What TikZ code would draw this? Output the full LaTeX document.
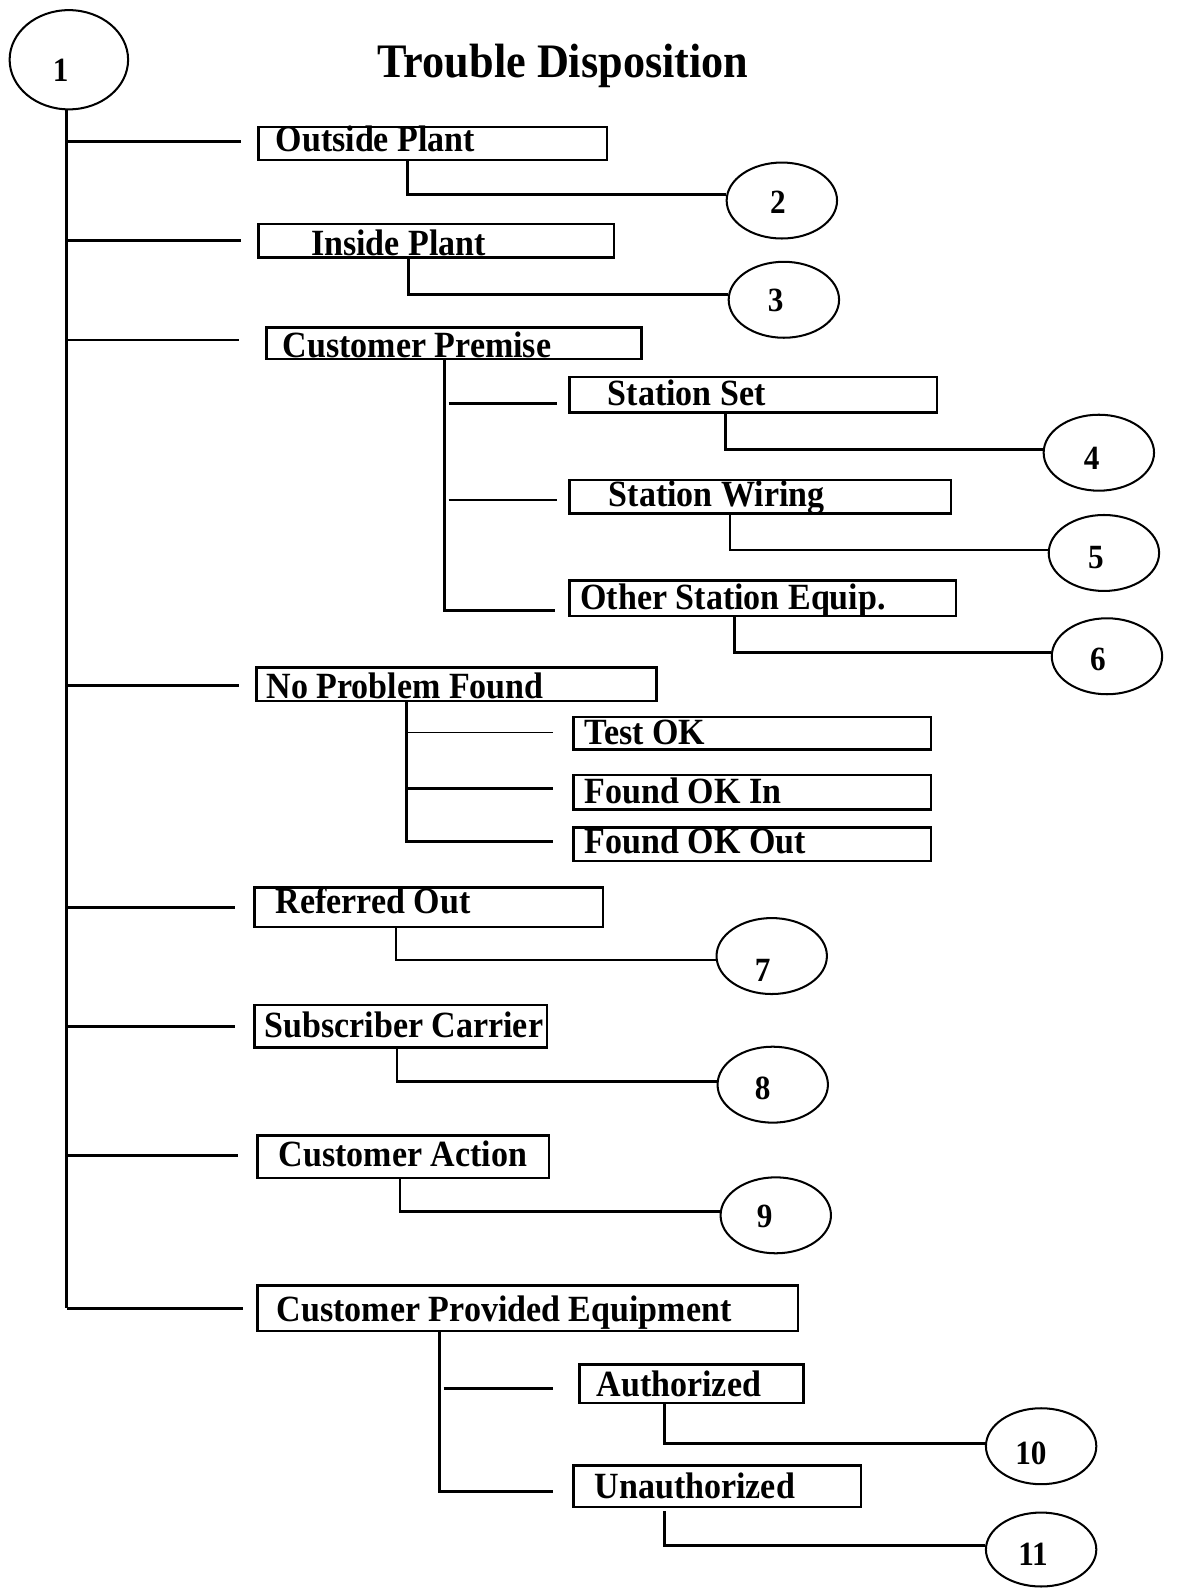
\documentclass[tikz,border=0pt]{standalone}
\usepackage{fontspec}
\setmainfont{Liberation Serif}[FakeStretch=0.92]
\usetikzlibrary{shapes.geometric,calc}
\begin{document}
\begin{tikzpicture}[x=1pt,y=-1pt,
  box/.style={draw, line width=2.4pt, rectangle, inner sep=0pt, anchor=north west},
  lbl/.style={anchor=base west, inner sep=0pt, font=\fontsize{36.5}{39}\selectfont\bfseries},
  oval/.style={draw, line width=2pt, ellipse, inner sep=0pt, minimum width=109pt, minimum height=75pt},
  num/.style={inner sep=0pt, font=\fontsize{33.5}{36}\selectfont\bfseries},
  ln/.style={line width=2.8pt},
  thinln/.style={line width=1.8pt}]
\useasboundingbox (0,0) rectangle (1164,1568);

% title
\node[inner sep=0pt, anchor=base, font=\fontsize{47.5}{50}\selectfont\bfseries] (title) at (556,77) {Trouble Disposition};

% ovals
\node[oval, minimum width=117pt, minimum height=98pt] (c1) at (68,59) {};
\node[oval] (c2) at (772,198) {};
\node[oval] (c3) at (774,296) {};
\node[oval] (c4) at (1085,447) {};
\node[oval] (c5) at (1090,546) {};
\node[oval] (c6) at (1093,648) {};
\node[oval] (c7) at (762,944) {};
\node[oval] (c8) at (763,1071) {};
\node[oval] (c9) at (766,1200) {};
\node[oval] (c10) at (1028,1428) {};
\node[oval, minimum height=73pt] (c11) at (1028,1530) {};

\node[num] (n1) at ($(c1)+(-8,10)$) {1};
\node[num] (n2) at ($(c2)+(-4,2)$) {2};
\node[num] (n3) at ($(c3)+(-8,1)$) {3};
\node[num] (n4) at ($(c4)+(-7,6)$) {4};
\node[num] (n5) at ($(c5)+(-8,5)$) {5};
\node[num] (n6) at ($(c6)+(-9,3)$) {6};
\node[num] (n7) at ($(c7)+(-9,14)$) {7};
\node[num] (n8) at ($(c8)+(-10,4)$) {8};
\node[num] (n9) at ($(c9)+(-11,1)$) {9};
\node[num] (n10) at ($(c10)+(-10,7)$) {10};
\node[num] (n11) at ($(c11)+(-8,5)$) {11};

% boxes
\node[box, minimum width=344pt, minimum height=33pt] (op) at (254,124) {};
\node[box, minimum width=351pt, minimum height=33pt] (ip) at (254,220) {};
\node[box, minimum width=370pt, minimum height=31pt] (cp) at (262,322) {};
\node[box, minimum width=363pt, minimum height=35pt] (ss) at (561,371) {};
\node[box, minimum width=377pt, minimum height=33pt] (sw) at (561,473) {};
\node[box, minimum width=382pt, minimum height=35pt] (oe) at (561,572) {};
\node[box, minimum width=395pt, minimum height=33pt] (npf) at (252,658) {};
\node[box, minimum width=353pt, minimum height=32pt] (tok) at (565,707) {};
\node[box, minimum width=353pt, minimum height=34pt] (fin) at (565,764) {};
\node[box, minimum width=353pt, minimum height=33pt] (fout) at (565,816) {};
\node[box, minimum width=344pt, minimum height=39pt] (ro) at (250,875) {};
\node[box, minimum width=289pt, minimum height=42pt] (sc) at (250,991) {};
\node[box, minimum width=288pt, minimum height=42pt] (ca) at (253,1120) {};
\node[box, minimum width=534pt, minimum height=45pt] (cpe) at (253,1268) {};
\node[box, minimum width=221pt, minimum height=38pt] (au) at (571,1346) {};
\node[box, minimum width=284pt, minimum height=41pt] (un) at (565,1446) {};

% labels
\node[lbl] (top) at (272,150) {Outside Plant};
\node[lbl] (tip) at (307,252) {Inside Plant};
\node[lbl] (tcp) at (279,353) {Customer Premise};
\node[lbl] (tss) at (600,400) {Station Set};
\node[lbl] (tsw) at (601,500) {Station Wiring};
\node[lbl] (toe) at (573,602) {Other Station Equip.};
\node[lbl] (tnpf) at (263,690) {No Problem Found};
\node[lbl] (ttok) at (577,735) {Test OK};
\node[lbl] (tfin) at (577,793) {Found OK In};
\node[lbl] (tfout) at (577,843) {Found OK Out};
\node[lbl] (tro) at (272,902) {Referred Out};
\node[lbl] (tsc) at (261,1024) {Subscriber Carrier};
\node[lbl] (tca) at (275,1152) {Customer Action};
\node[lbl] (tcpe) at (273,1305) {Customer Provided Equipment};
\node[lbl] (tau) at (589,1379) {Authorized};
\node[lbl] (tun) at (587,1480) {Unauthorized};

% main trunk
\coordinate (tr) at (66,108);
\draw[ln] (tr) -- (tr |- cpe.west);
\coordinate (bop) at ($(op.west)+(-16,-2)$);
\coordinate (bip) at ($(ip.west)+(-16,0)$);
\coordinate (bcp) at ($(cp.west)+(-26,-3)$);
\coordinate (bnpf) at ($(npf.west)+(-16,1)$);
\coordinate (bro) at ($(ro.west)+(-18,0)$);
\coordinate (bsc) at ($(sc.west)+(-18,0)$);
\coordinate (bca) at ($(ca.west)+(-18,-1)$);
\coordinate (bcpe) at ($(cpe.west)+(-13,0)$);
\foreach \b in {bop,bip,bcp,bnpf,bro,bsc,bca,bcpe}
  \draw[ln] (tr |- \b) -- (\b);

% box to oval connectors
\draw[ln] ($(op.south west)+(148,0)$) |- (c2.174);
\draw[ln] ($(ip.south west)+(149,0)$) |- (c3.175);
\draw[ln] ($(ss.south west)+(155,0)$) |- (c4.177);
\draw[thinln] ($(sw.south west)+(160,0)$) |- (c5.177);
\draw[ln] ($(oe.south west)+(164,0)$) |- (c6.176);
\draw[ln] ($(ro.south west)+(141,0)$) |- (c7.184);
\draw[ln] ($(sc.south west)+(142,0)$) |- (c8.177);
\draw[ln] ($(ca.south west)+(142,0)$) |- (c9.176);
\draw[ln] ($(au.south west)+(85,0)$) |- (c10.177);
\draw[ln] ($(un.south west)+(91,3)$) |- (c11.176);

% Customer Premise subtree
\draw[ln] ($(cp.south west)+(177,0)$) |- ($(oe.south west)+(-13,-7)$);
\draw[ln] ($(ss.south west)+(-118,-10)$) -- ($(ss.south west)+(-11,-10)$);
\draw[thinln] ($(sw.south west)+(-118,-15)$) -- ($(sw.south west)+(-11,-15)$);

% No Problem Found subtree
\draw[ln] ($(npf.south west)+(149,0)$) |- ($(fout.west)+(-19,-3)$);
\draw[thinln] ($(tok.west)+(-164,-1)$) -- ($(tok.west)+(-19,-1)$);
\draw[ln] ($(fin.west)+(-164,-4)$) -- ($(fin.west)+(-19,-4)$);

% Customer Provided Equipment subtree
\draw[ln] ($(cpe.south west)+(181,0)$) |- ($(un.west)+(-19,5)$);
\draw[ln] ($(au.west)+(-133,5)$) -- ($(au.west)+(-25,5)$);
\end{tikzpicture}
\end{document}
